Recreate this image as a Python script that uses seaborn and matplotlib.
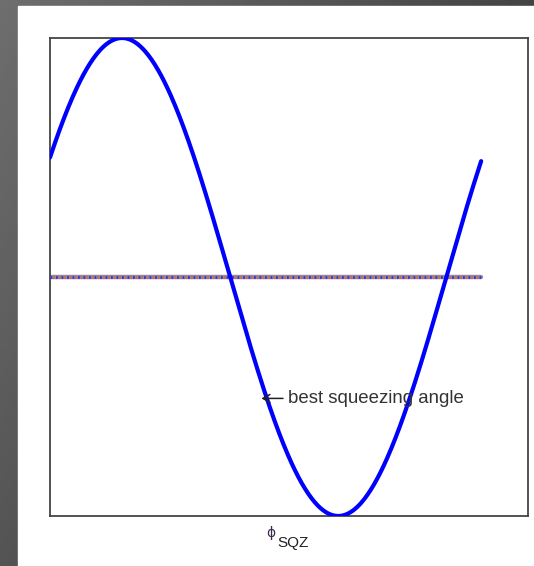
import numpy as np
import pandas as pd
import matplotlib
matplotlib.use("Agg")
import matplotlib.pyplot as plt
from matplotlib.patches import Rectangle
import seaborn as sns

# Quadrature phase sweep (degrees) and the unit-amplitude noise response
phase_start_deg = 30
phase_end_deg = 389
n_samples = 400
amplitude = 1.0
baseline_level = 0.0

annotation_text = "best squeezing angle"
arrow_tip = (206.0, -0.508)
arrow_tail = (224.0, -0.508)
text_pos = (228.0, -0.508)
label_symbol = "\u03d5"
label_subscript = "SQZ"

phase = np.linspace(phase_start_deg, phase_end_deg, n_samples)
df = pd.DataFrame({
    "phase": phase,
    "noise": amplitude * np.sin(np.deg2rad(phase)),
    "baseline": np.full_like(phase, baseline_level),
})

sns.set_style("white")
plt.rcParams["font.family"] = ["Liberation Sans", "DejaVu Sans"]

W, H = 534, 566
fig = plt.figure(figsize=(W / 100, H / 100), dpi=100)

# dark slide-style frame with a soft gradient
bg = fig.add_axes([0, 0, 1, 1], zorder=-10)
gx, gy = np.meshgrid(np.linspace(0, 1, 200), np.linspace(0, 1, 200))
shade = 0x6e - 0x2a * gx - 0x1a * gy
bg.imshow(shade, cmap="gray", vmin=0, vmax=255, extent=(0, 1, 0, 1),
          aspect="auto", origin="upper")
bg.add_patch(Rectangle((18 / W, 0), 1, 1 - 6 / H, color="white",
                       transform=bg.transAxes))
bg.set_axis_off()

ax = fig.add_axes([50 / W, 50 / H, 478 / W, 478 / H])
ax.set_facecolor("white")

sns.lineplot(data=df, x="phase", y="baseline", ax=ax, color="#9a8c9a",
             lw=3.2, zorder=2)
ax.plot(df["phase"], df["baseline"], color="#3a3ad0", lw=2.2,
        ls=(0, (0.6, 1.2)), zorder=3)
ax.plot(df["phase"], df["baseline"], color="#c86a5a", lw=2.2,
        ls=(0.9, (0.6, 1.2)), zorder=3)
sns.lineplot(data=df, x="phase", y="noise", ax=ax, color="#0000ff",
             lw=3.0, zorder=4)

ax.set_xlim(30, 428)
ax.set_ylim(-1, 1)
ax.set_xticks([])
ax.set_yticks([])
ax.set_ylabel("")
ax.set_xlabel("")
for s in ax.spines.values():
    s.set_visible(True)
    s.set_color("#444444")
    s.set_linewidth(1.3)

ax.annotate("", xy=arrow_tip, xytext=arrow_tail, zorder=5,
            arrowprops=dict(arrowstyle="->,head_length=0.5,head_width=0.28",
                            color="#222222", lw=1.1, shrinkA=0, shrinkB=0))
ax.text(text_pos[0], text_pos[1], annotation_text,
        fontsize=13.4, color="#333333", ha="left", va="center", zorder=5)

# axis label: small phi with a larger SQZ subscript
fig.text(271 / W, 1 - 533 / H, label_symbol, fontsize=10, color="#3a2a4a",
         ha="center", va="center", family="DejaVu Sans")
fig.text(277 / W, 1 - 547 / H, label_subscript, fontsize=11, color="#222222",
         ha="left", va="baseline")

fig.savefig("out.png", dpi=100)
